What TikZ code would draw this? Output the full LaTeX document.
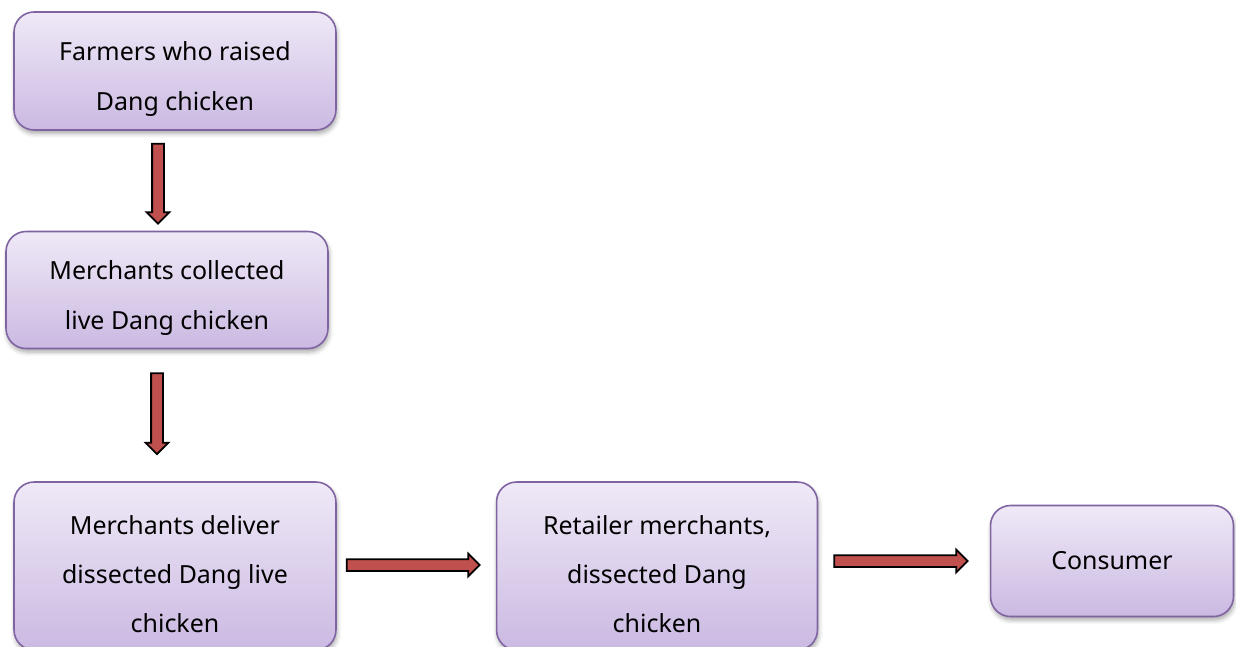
\documentclass[tikz,border=0pt]{standalone}
\usepackage{fontspec}
\setmainfont{Noto Sans}
\usetikzlibrary{calc,shapes.arrows,shadows.blur}

\definecolor{boxtop}{HTML}{EFE9F7}
\definecolor{boxbot}{HTML}{CBB9E2}
\definecolor{boxline}{HTML}{8064A2}
\definecolor{arrowred}{HTML}{C0504D}

\newcommand{\topgap}{\rule{0pt}{19.8pt}}

\tikzset{
  stagebox/.style={draw=boxline, line width=0.9pt, rounded corners=0.4cm,
    top color=boxtop, bottom color=boxbot, align=center,
    font=\fontsize{14.2}{28}\selectfont, inner sep=0pt,
    blur shadow={shadow xshift=0.6pt, shadow yshift=-2pt, shadow blur radius=2.5pt, shadow opacity=35}},
  fatarrow/.style={single arrow, draw=black, fill=arrowred, line width=1pt,
    inner xsep=0pt, inner ysep=0.1cm, text height=0pt, text depth=0pt,
    minimum width=0.44cm, single arrow head extend=0.11cm}
}

\begin{document}
\begin{tikzpicture}[x=0.02cm, y=-0.02cm]
  \useasboundingbox (0,0) rectangle (1236,646);
  % boxes
  \node[stagebox, minimum width=6.44cm, minimum height=2.36cm] (farm) at (175,71) {\topgap Farmers who raised\\Dang chicken};
  \node[stagebox, minimum width=6.44cm, minimum height=2.34cm] (coll) at (167,290) {\topgap Merchants collected\\live Dang chicken};
  \node[stagebox, minimum width=6.44cm, minimum height=3.36cm] (deliv) at (175,566) {\topgap Merchants deliver\\dissected Dang live\\chicken};
  \node[stagebox, minimum width=6.42cm, minimum height=3.36cm] (retail) at (657,566) {\topgap Retailer merchants,\\dissected Dang\\chicken};
  \node[stagebox, minimum width=4.86cm, minimum height=2.22cm] (cons) at (1112,561) {Consumer};
  % arrows
  \path let \p1=($(farm.south)+(-17,10)$), \p2=($(coll.north)+(-9,-10)$), \n1={veclen(\x2-\x1,\y2-\y1)} in
    (\p1) -- (\p2) node[fatarrow, midway, sloped, minimum height=\n1] {};
  \path let \p1=($(coll.south)+(-10,21)$), \p2=($(deliv.north)+(-18,-30)$), \n1={veclen(\x2-\x1,\y2-\y1)} in
    (\p1) -- (\p2) node[fatarrow, midway, sloped, minimum height=\n1] {};
  \path let \p1=($(deliv.east)+(7,-1)$), \p2=($(retail.west)+(-19,-1)$), \n1={veclen(\x2-\x1,\y2-\y1)} in
    (\p1) -- (\p2) node[fatarrow, midway, sloped, minimum height=\n1] {};
  \path let \p1=($(retail.east)+(13,-5)$), \p2=($(cons.west)+(-25,0)$), \n1={veclen(\x2-\x1,\y2-\y1)} in
    (\p1) -- (\p2) node[fatarrow, midway, sloped, minimum height=\n1] {};
\end{tikzpicture}
\end{document}
